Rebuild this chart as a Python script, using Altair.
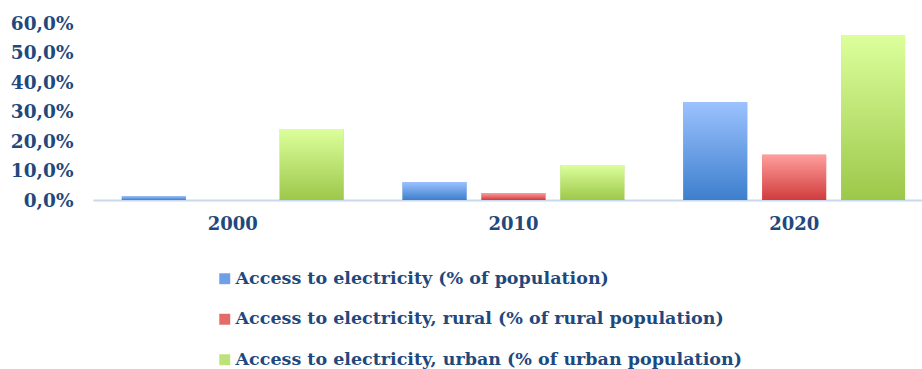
import altair as alt
import pandas as pd

years = ["2000", "2010", "2020"]
series = [
    "Access to electricity (% of population)",
    "Access to electricity, rural (% of rural population)",
    "Access to electricity, urban (% of urban population)",
]
total = [1.3, 6.1, 33.2]
rural = [0.0, 2.4, 15.3]
urban = [24.1, 11.9, 55.9]

flat_colors = ["#6f9fe6", "#e56a6a", "#bde27a"]
grad_stops = [
    ("#9cc2ff", "#3d7fcd"),
    ("#ff9e9c", "#d03c3c"),
    ("#dcff9c", "#9cc84a"),
]

rows = []
for i, y in enumerate(years):
    for s, vals in zip(series, [total, rural, urban]):
        rows.append({"year": y, "series": s, "value": vals[i]})
df = pd.DataFrame(rows)

FONT = "DejaVu Serif"
TXT = "#1f497d"

x_enc = alt.X("year:N", title=None, sort=years,
              scale=alt.Scale(paddingInner=0.21, paddingOuter=0.0815, align=0.63),
              axis=alt.Axis(labelAngle=0, ticks=False, domain=True, domainColor="#c9d9ee",
                            domainWidth=2, labelFont=FONT, labelFontSize=18,
                            labelFontWeight="bold", labelColor=TXT, labelPadding=15))
xo_enc = alt.XOffset("series:N", sort=series,
                     scale=alt.Scale(paddingInner=0.19, paddingOuter=0))
y_enc = alt.Y("value:Q", title=None,
              scale=alt.Scale(domain=[0, 60]),
              axis=alt.Axis(values=[0, 10, 20, 30, 40, 50, 60], grid=False, ticks=False,
                            domain=False, labelFont=FONT, labelFontSize=18.5,
                            labelFontWeight="bold", labelColor=TXT, labelPadding=20,
                            labelExpr="replace(format(datum.value, '.1f'), '.', ',') + '%'"))

base = alt.Chart(df)

shadow = base.mark_bar(color="#000000", opacity=0.10, xOffset=3, y2Offset=3).encode(
    x=x_enc, xOffset=xo_enc, y=y_enc
).transform_filter("datum.value > 0")

legend_layer = base.mark_bar().encode(
    x=x_enc, xOffset=xo_enc, y=y_enc,
    color=alt.Color("series:N", sort=series,
                    scale=alt.Scale(domain=series, range=flat_colors),
                    legend=alt.Legend(title=None, orient="none", legendX=123, legendY=247,
                                      direction="vertical", symbolType="square",
                                      symbolSize=120, symbolStrokeWidth=0,
                                      labelLimit=800, rowPadding=21.5, labelOffset=2)),
).transform_filter("datum.value > 0")

layers = [shadow, legend_layer]
for s, (top, bot) in zip(series, grad_stops):
    g = alt.Gradient(gradient="linear", x1=0, y1=0, x2=0, y2=1,
                     stops=[alt.GradientStop(offset=0, color=top),
                            alt.GradientStop(offset=1, color=bot)])
    layers.append(
        base.mark_bar(fill=g).encode(x=x_enc, xOffset=xo_enc, y=y_enc)
        .transform_filter(alt.datum.series == s)
        .transform_filter("datum.value > 0")
    )

chart = alt.layer(*layers).properties(
    width=829, height=177,
    autosize=alt.AutoSizeParams(type="none"),
    padding={"left": 93, "top": 23, "right": 0, "bottom": 169},
).configure(background="white").configure_view(stroke=None).configure_legend(
    labelFont=FONT, labelFontSize=17.5, labelFontWeight="bold", labelColor=TXT,
    labelLimit=800,
)

chart.save("out.html", embed_options={"renderer": "svg", "actions": False})
